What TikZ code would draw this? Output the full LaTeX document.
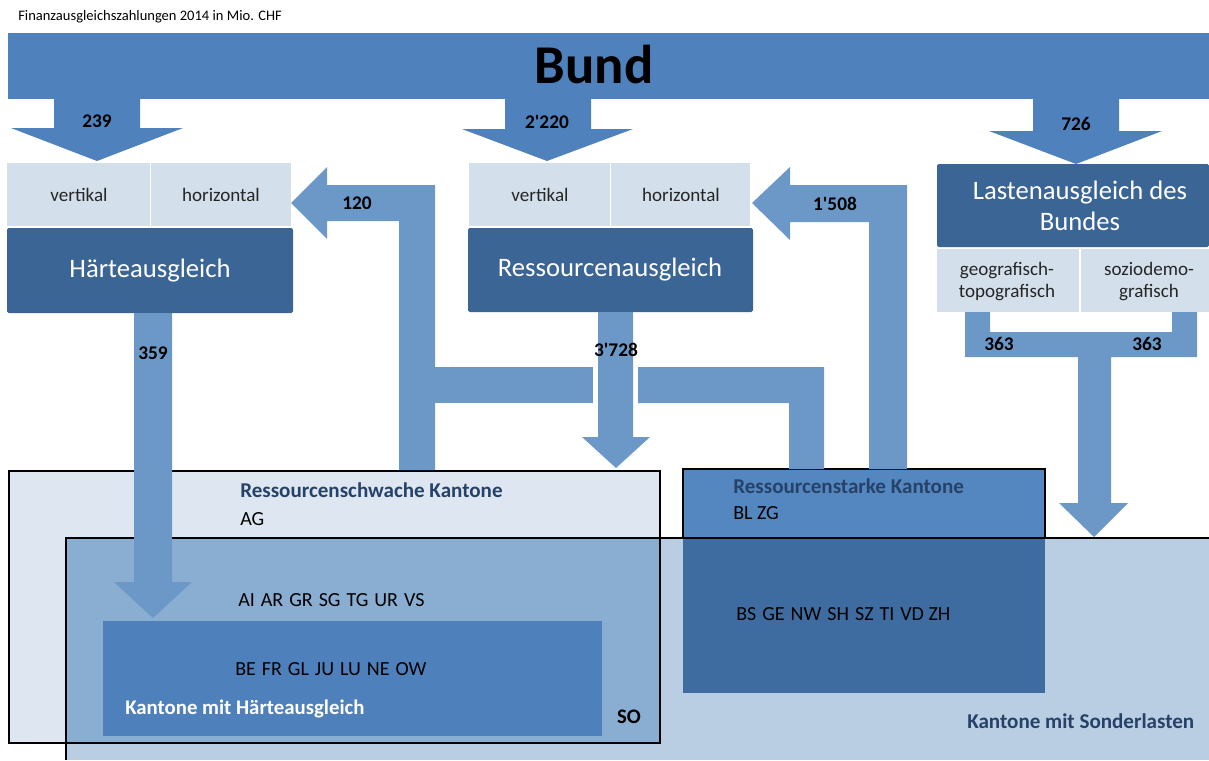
\documentclass[tikz,border=0pt]{standalone}
\usepackage{fontspec}
\setmainfont{Carlito}
\definecolor{bundcol}{RGB}{79,129,189}
\definecolor{flowcol}{RGB}{108,152,200}
\definecolor{cellcol}{RGB}{211,223,234}
\definecolor{darkcol}{RGB}{58,101,148}
\definecolor{schwachcol}{RGB}{222,231,241}
\definecolor{sondercol}{RGB}{185,205,227}
\definecolor{overlapcol}{RGB}{138,173,210}
\definecolor{haertecol}{RGB}{78,128,188}
\definecolor{starkecol}{RGB}{84,135,192}
\definecolor{starkedark}{RGB}{63,108,160}
\definecolor{lblblue}{RGB}{38,66,105}
\newcommand{\kgap}{\hspace{0.3em}}
\newcommand{\apos}{\textquotesingle}
\tikzset{
  bundarrow/.style={fill=bundcol},
  flowarrow/.style={fill=flowcol},
  cellbox/.style={fill=cellcol},
  darkbox/.style={fill=darkcol, rounded corners=1.2pt},
  frame/.style={draw=black, line width=1.1pt},
  numlbl/.style={inner sep=0pt, font=\bfseries\fontsize{14.5}{16}\selectfont},
  celltxt/.style={inner sep=0pt, align=center, text=black!85, font=\fontsize{14.3}{16.5}\selectfont},
  titletxt/.style={inner sep=0pt, align=center, text=white, font=\fontsize{20}{23.5}\selectfont},
  grptxt/.style={inner sep=0pt, anchor=west, text=lblblue, font=\bfseries\fontsize{15.8}{18}\selectfont},
  kttxt/.style={inner sep=0pt, anchor=west, text=black, font=\fontsize{15}{18}\selectfont},
}
\begin{document}
\begin{tikzpicture}[x=0.75pt, y=-0.75pt]
\useasboundingbox (0,0) rectangle (1209,760);
\fill[white] (0,0) rectangle (1209,760);

% caption
\node[inner sep=0pt, anchor=west, font=\fontsize{10.9}{12}\selectfont] (caption) at (18,17) {Finanzausgleichszahlungen 2014 in Mio. CHF};

% ===== bottom group boxes =====
\fill[schwachcol] (9,471) rectangle (660,743);
\fill[sondercol] (66,538) rectangle (1209,760);
\fill[overlapcol] (66,538) rectangle (660,743);
\draw[frame] (9,471) rectangle (660,743);
\draw[frame] (66,760) -- (66,538) -- (1209,538);
\fill[haertecol] (103,621) rectangle (602,736);
\fill[starkedark] (683,538) rectangle (1045,693);
\fill[starkecol] (683,469) rectangle (1045,538);
\draw[frame] (683,538) -- (683,469) -- (1045,469) -- (1045,538) -- cycle;

% ===== Bund =====
\fill[bundcol] (8,33) rectangle (1209,99);
\node[inner sep=0pt, font=\bfseries\fontsize{41}{46}\selectfont] (bund) at (594,65) {Bund};
\fill[bundarrow] (54,98) -- (140,98) -- (140,128) -- (183,128) -- (97,161) -- (11,128) -- (54,128) -- cycle;
\fill[bundarrow] (505,98) -- (591,98) -- (591,129) -- (633,129) -- (547,161) -- (462,129) -- (505,129) -- cycle;
\fill[bundarrow] (1033,98) -- (1119,98) -- (1119,131) -- (1162,131) -- (1076,164) -- (989,131) -- (1033,131) -- cycle;
\node[numlbl] (n239) at (97,121) {239};
\node[numlbl] (n2220) at (547,122) {2\apos220};
\node[numlbl] (n726) at (1076,124) {726};

% ===== Härteausgleich =====
\fill[cellbox] (7,163) rectangle (150,226);
\fill[cellbox] (151,163) rectangle (291,226);
\node[celltxt] (hvert) at (79,195) {vertikal};
\node[celltxt] (hhor) at (221,195) {horizontal};
\fill[darkbox] (7,228) rectangle (293,313);
\node[titletxt] (haerte) at (150,271) {Härteausgleich};

% ===== Ressourcenausgleich =====
\fill[cellbox] (469,163) rectangle (610,226);
\fill[cellbox] (611,163) rectangle (750,226);
\node[celltxt] (rvert) at (540,195) {vertikal};
\node[celltxt] (rhor) at (681,195) {horizontal};
\fill[darkbox] (468,228) rectangle (753,312);
\node[titletxt] (ressourcen) at (610,270) {Ressourcenausgleich};

% ===== Lastenausgleich =====
\fill[darkbox] (937,164) rectangle (1209,247);
\node[titletxt] (lasten) at (1080,206) {Lastenausgleich des\\Bundes};
\fill[cellbox] (937,249) rectangle (1079,312);
\fill[cellbox] (1081,249) rectangle (1209,312);
\node[celltxt] (geo) at (1007,282) {geografisch-\\topografisch};
\node[celltxt] (sozio) at (1149,282) {soziodemo-\\grafisch};

% ===== flows =====
% 120
\fill[flowarrow] (291,203) -- (327,167) -- (327,185) -- (435,185) -- (435,470) -- (399,470) -- (399,221) -- (327,221) -- (327,239) -- cycle;
\fill[flowarrow] (435,367) rectangle (593,403);
\node[numlbl] (n120) at (357,203) {120};
% 1'508
\fill[flowarrow] (752,203) -- (790,167) -- (790,185) -- (907,185) -- (907,469) -- (869,469) -- (869,222) -- (790,222) -- (790,240) -- cycle;
\fill[flowarrow] (638,367) -- (824,367) -- (824,469) -- (789,469) -- (789,403) -- (638,403) -- cycle;
\node[numlbl] (n1508) at (835,204) {1\apos508};
% 3'728
\fill[flowarrow] (598,312) -- (633,312) -- (633,437) -- (650,437) -- (616,468) -- (582,437) -- (598,437) -- cycle;
\node[numlbl] (n3728) at (616,350) {3\apos728};
% 359
\fill[flowarrow] (134,313) -- (172,313) -- (172,582) -- (192,582) -- (153,618) -- (114,582) -- (134,582) -- cycle;
\node[numlbl] (n359) at (153,353) {359};
% 363
\fill[flowarrow] (965,312) -- (990,312) -- (990,332) -- (1172,332) -- (1172,312) -- (1197,312) -- (1197,357) -- (1111,357) -- (1111,503) -- (1128,503) -- (1094,537) -- (1059,503) -- (1078,503) -- (1078,357) -- (965,357) -- cycle;
\node[numlbl] (n363a) at (999,344) {363};
\node[numlbl] (n363b) at (1147,344) {363};

% ===== bottom texts =====
\node[grptxt] (schwach) at (240,490) {Ressourcenschwache Kantone};
\node[kttxt] (ag) at (240,519) {AG};
\node[kttxt] (sonderonly) at (238,600) {AI\kgap AR\kgap GR\kgap SG\kgap TG\kgap UR\kgap VS};
\node[kttxt] (haertek) at (235,669) {BE\kgap FR\kgap GL\kgap JU\kgap LU\kgap NE\kgap OW};
\node[inner sep=0pt, anchor=west, text=white, font=\bfseries\fontsize{15.6}{18}\selectfont] (haertelbl) at (125,709) {Kantone mit Härteausgleich};
\node[inner sep=0pt, font=\bfseries\fontsize{15.5}{18}\selectfont] (so) at (629,717) {SO};
\node[grptxt] (starke) at (733,486) {Ressourcenstarke Kantone};
\node[kttxt] (blzg) at (733,513) {BL ZG};
\node[kttxt] (starkeson) at (736,614) {BS\kgap GE\kgap NW\kgap SH\kgap SZ\kgap TI\kgap VD ZH};
\node[grptxt] (sonder) at (967,721) {Kantone mit Sonderlasten};
\end{tikzpicture}
\end{document}
